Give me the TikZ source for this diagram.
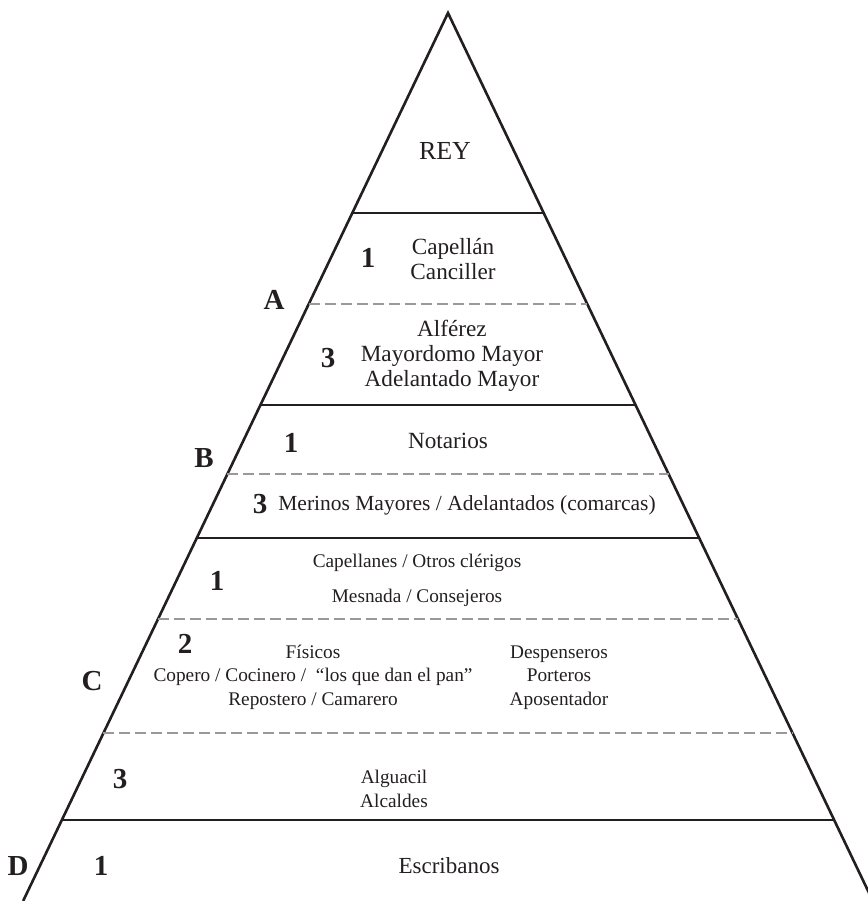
\documentclass[tikz,border=0pt]{standalone}
\usepackage{fontspec}
\setmainfont{Liberation Serif}
\usepackage{tikz}
\usetikzlibrary{calc}
\definecolor{inkblack}{HTML}{231F20}
\definecolor{dashgray}{HTML}{999999}

\begin{document}
\begin{tikzpicture}[
  x=1pt, y=-1pt,
  edge/.style={draw=inkblack, line width=2.6pt, line join=miter},
  tierline/.style={draw=inkblack, line width=2.6pt},
  subline/.style={draw=dashgray, line width=2.6pt, dash pattern=on 11pt off 5pt},
  txt/.style={anchor=base, inner sep=0pt, align=center, text=inkblack, font=\fontsize{21.5}{24.5}\selectfont},
  txtbig/.style={txt, font=\fontsize{23.2}{25}\selectfont},
  txtsmall/.style={txt, font=\fontsize{19.3}{23.5}\selectfont},
  num/.style={anchor=base, inner sep=0pt, text=inkblack, font=\fontsize{29}{30}\selectfont\bfseries}
]
  \useasboundingbox (0,0) rectangle (867,901);

  % pyramid outline
  \coordinate (apex) at (448,13);
  \coordinate (bl) at (23.1,901);
  \coordinate (br) at (872.9,901);
  \draw[edge] (bl) -- (apex) -- (br);

  % tiers and sub-tiers
  \foreach \yy/\sty in {213/tierline,304/subline,405/tierline,474/subline,538/tierline,619/subline,733/subline,820/tierline}
    \draw[\sty] ($(apex)!{(\yy-13)/888}!(bl)$) -- ($(apex)!{(\yy-13)/888}!(br)$);

  % top (multi-line nodes sit on their last baseline)
  \node[txt, font=\fontsize{26}{30}\selectfont] (rey) at (445,160) {REY};

  % group A
  \node[num] (grpA) at (274,309) {A};
  \node[num] (nA1) at (368,267) {1};
  \node[txtbig] (capellan) at (453,279) {Capellán\\Canciller};
  \node[num] (nA3) at (328,367) {3};
  \node[txtbig] (alferez) at (452,386) {Alférez\\Mayordomo Mayor\\Adelantado Mayor};

  % group B
  \node[num] (grpB) at (204,467) {B};
  \node[num] (nB1) at (291,452) {1};
  \node[txtbig] (notarios) at (448,448) {Notarios};
  \node[num] (nB3) at (260,513) {3};
  \node[txt] (merinos) at (467,510) {Merinos Mayores / Adelantados (comarcas)};

  % group C
  \node[num] (grpC) at (92,690) {C};
  \node[num] (nC1) at (217,590) {1};
  \node[txtsmall] (capellanes) at (417,567) {Capellanes / Otros clérigos};
  \node[txtsmall] (mesnada) at (417,602) {Mesnada / Consejeros};
  \node[num] (nC2) at (185,653) {2};
  \node[txtsmall] (fisicos) at (313,705) {Físicos\\Copero / Cocinero /~ “los que dan el pan”\\Repostero / Camarero};
  \node[txtsmall] (despenseros) at (559,705) {Despenseros\\Porteros\\Aposentador};
  \node[num] (nC3) at (120,788) {3};
  \node[txtsmall, font=\fontsize{19.3}{24}\selectfont] (alguacil) at (394,807) {Alguacil\\Alcaldes};

  % group D
  \node[num] (grpD) at (18,875) {D};
  \node[num] (nD1) at (101,875) {1};
  \node[txt, font=\fontsize{23}{25}\selectfont] (escribanos) at (449,873) {Escribanos};
\end{tikzpicture}
\end{document}
